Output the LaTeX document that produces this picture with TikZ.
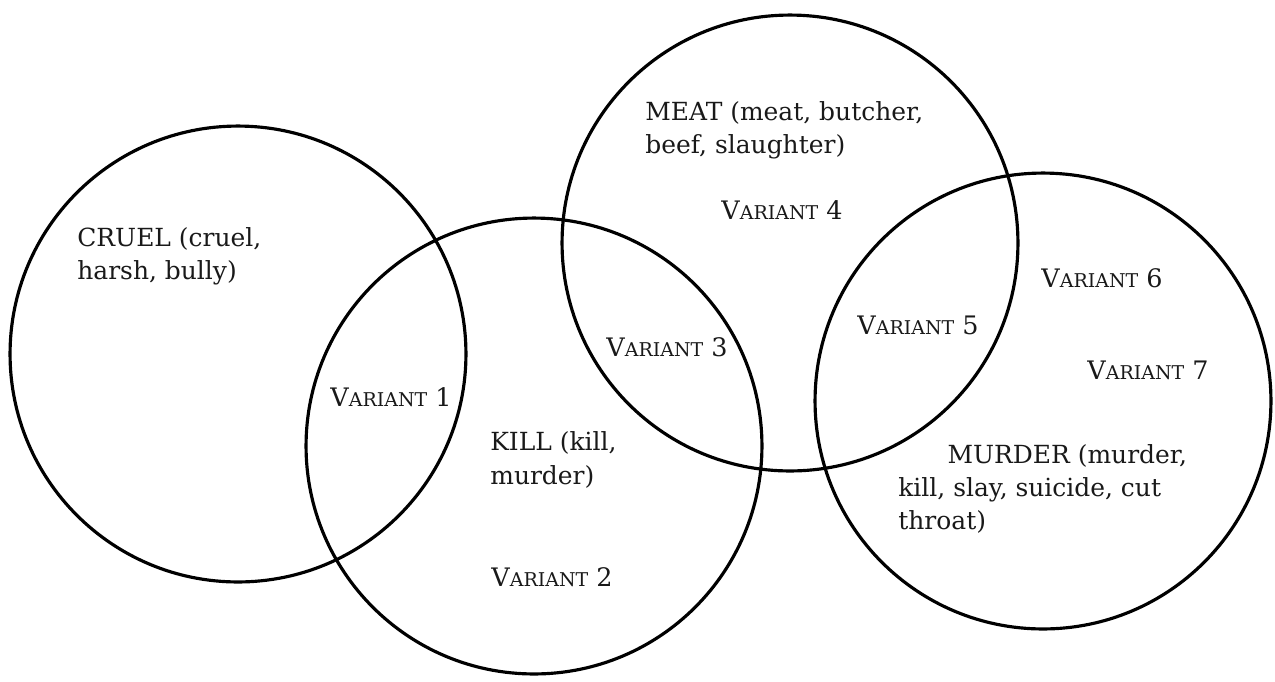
\documentclass[tikz,border=0pt]{standalone}
\usepackage{fontspec}
\setmainfont{DejaVu Serif}
\usepackage{tikz}
\usetikzlibrary{positioning}

% small caps by hand, the serif has none
\newcommand{\varlabel}[1]{V{\fontsize{10.8}{12}\selectfont ARIANT} #1}

\begin{document}
\begin{tikzpicture}[x=0.02cm,y=-0.02cm,
	setnode/.style={circle,draw,line width=1.8pt,minimum size=9.12cm,inner sep=0pt},
	labelnode/.style={align=left,anchor=west,inner sep=0pt,text=black!90,font=\fontsize{14.2}{19}\selectfont},
	varnode/.style={inner sep=0pt,text=black!90,font=\fontsize{14.5}{19}\selectfont}]
	
	\useasboundingbox (0,0) rectangle (1275,681);
	
	% the four sets
	\node [setnode] (cruel) at (238, 354) {};
	\node [setnode] (kill) at (534, 446) {};
	\node [setnode] (meat) at (790, 243) {};
	\node [setnode] (murder) at (1043, 401) {};
	
	% set labels
	\node [labelnode] (cruellabel) at (77, 256) {CRUEL (cruel,\\harsh, bully)};
	\node [labelnode] (killlabel) at (490, 460) {KILL (kill,\\murder)};
	\node [labelnode] (meatlabel) at (645, 130) {MEAT (meat, butcher,\\beef, slaughter)};
	\node [labelnode] (murderlabel) at (898, 489) {\hspace*{28pt}MURDER (murder,\\kill, slay, suicide, cut\\throat)};
	
	% variants
	\node [varnode] (v1) at (391, 397) {\varlabel{1}};
	\node [varnode] (v2) at (552, 577) {\varlabel{2}};
	\node [varnode] (v3) at (667, 347) {\varlabel{3}};
	\node [varnode] (v4) at (782, 210) {\varlabel{4}};
	\node [varnode] (v5) at (918, 325) {\varlabel{5}};
	\node [varnode] (v6) at (1102, 278) {\varlabel{6}};
	\node [varnode] (v7) at (1148, 370) {\varlabel{7}};
\end{tikzpicture}
\end{document}
